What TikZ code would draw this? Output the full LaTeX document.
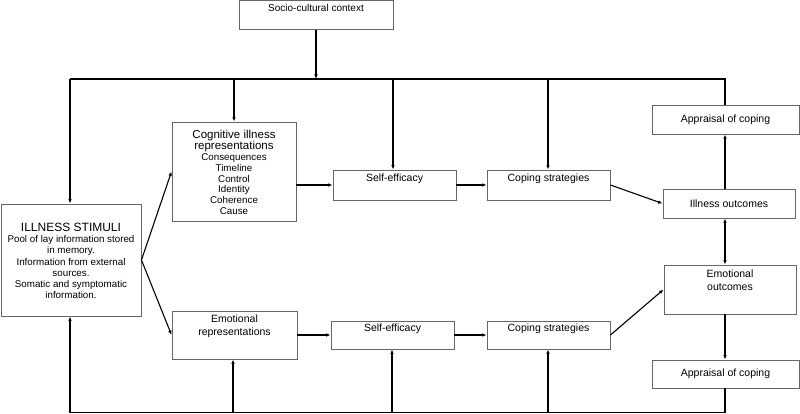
\documentclass[tikz,border=0pt]{standalone}
\usepackage{fontspec}
\setmainfont{Liberation Sans}
\usetikzlibrary{arrows.meta}
\begin{document}
\begin{tikzpicture}[x=1pt,y=-1pt,
  box/.style={draw=black!60, line width=0.9pt, rectangle, inner sep=0pt, align=center, font=\fontsize{10.5}{12.5}\selectfont},
  conn/.style={line width=1.1pt, black},
  arr/.style={conn, -{Latex[length=4.5pt,width=3.6pt]}},
  darr/.style={conn, {Latex[length=4.5pt,width=3.6pt]}-{Latex[length=4.5pt,width=3.6pt]}},
  lbl/.style={inner sep=0pt, align=center, font=\fontsize{10.5}{13}\selectfont}]
\useasboundingbox (0,0) rectangle (800,414);

% boxes
\node[box, minimum width=154pt, minimum height=29pt, font=\fontsize{10}{12}\selectfont] (soc) at (316,15) {Socio-cultural context\\[2pt]};
\node[box, minimum width=140pt, minimum height=112pt] (stim) at (71,260) {};
\node[lbl, font=\fontsize{9.8}{11.2}\selectfont] (stimt) at ([yshift=-1pt]stim.center) {{\fontsize{12}{14}\selectfont ILLNESS STIMULI}\\
  Pool of lay information stored\\
  in memory.\\
  Information from external\\
  sources.\\
  Somatic and symptomatic\\
  information.};
\node[box, minimum width=124pt, minimum height=99pt] (cog) at (234,171.5) {};
\node[lbl, font=\fontsize{9.8}{10.9}\selectfont] (cogt) at ([yshift=-1pt]cog.center) {{\fontsize{11.5}{12.5}\selectfont Cognitive illness}\\
  {\fontsize{11.5}{12.5}\selectfont representations}\\
  Consequences\\
  Timeline\\
  Control\\
  Identity\\
  Coherence\\
  Cause};
\node[box, minimum width=123pt, minimum height=30pt] (se1) at (394.5,185) {Self-efficacy\\[2pt]};
\node[box, minimum width=123pt, minimum height=30pt] (cs1) at (548.5,185) {Coping strategies\\[2pt]};
\node[box, minimum width=147pt, minimum height=29pt] (ap1) at (725.5,119.5) {Appraisal of coping};
\node[box, minimum width=132pt, minimum height=29pt] (io) at (729,203.5) {Illness outcomes};
\node[box, minimum width=132pt, minimum height=49pt] (eo) at (730,289.5) {};
\node[lbl, anchor=north] (eot) at ([yshift=-5pt]eo.north) {Emotional\\outcomes};
\node[box, minimum width=147pt, minimum height=28pt] (ap2) at (725.5,374) {Appraisal of coping};
\node[box, minimum width=125pt, minimum height=48pt] (er) at (234.5,335) {};
\node[lbl, anchor=north] (ert) at ([yshift=-4pt]er.north) {Emotional\\representations};
\node[box, minimum width=123pt, minimum height=28pt] (se2) at (392.5,335) {Self-efficacy\\[2pt]};
\node[box, minimum width=123pt, minimum height=28pt] (cs2) at (548.5,335) {Coping strategies\\[2pt]};

% bus coordinates
\coordinate (tL) at (70,79);
\coordinate (t1) at (234,79);
\coordinate (t2) at (393,79);
\coordinate (t3) at (548,79);
\coordinate (tR) at (725,79);
\coordinate (bL) at (70,412.5);
\coordinate (b1) at (233,412.5);
\coordinate (b2) at (392,412.5);
\coordinate (b3) at (548,412.5);
\coordinate (bR) at (725,412.5);

% top bus
\draw[conn] (ap1.north -| tR) -- (tR) -- (tL);
\draw[arr] (soc.south) -- (soc.south |- tL);
\draw[arr] (tL) -- (tL |- stim.north);
\draw[arr] (t1) -- (t1 |- cog.north);
\draw[arr] (t2) -- (t2 |- se1.north);
\draw[arr] (t3) -- (t3 |- cs1.north);

% bottom bus
\draw[conn] (ap2.south -| bR) -- (bR) -- (bL);
\draw[arr] (bL) -- (bL |- stim.south);
\draw[arr] (b1) -- (b1 |- er.south);
\draw[arr] (b2) -- (b2 |- se2.south);
\draw[arr] (b3) -- (b3 |- cs2.south);

% flow
\draw[arr] (stim.east) -- (cog.west);
\draw[arr] (stim.east) -- (er.west);
\draw[arr] (cog.east |- se1.west) -- (se1.west);
\draw[arr] (se1.east) -- (cs1.west);
\draw[arr] (cs1.east) -- (io.west);
\draw[arr] (er.east) -- (se2.west);
\draw[arr] (se2.east) -- (cs2.west);
\draw[arr] (cs2.east) -- (eo.west);
\draw[darr] (io.south -| tR) -- (eo.north -| tR);
\draw[arr] (io.north -| tR) -- (ap1.south -| tR);
\draw[arr] (eo.south -| tR) -- (ap2.north -| tR);
\end{tikzpicture}
\end{document}
